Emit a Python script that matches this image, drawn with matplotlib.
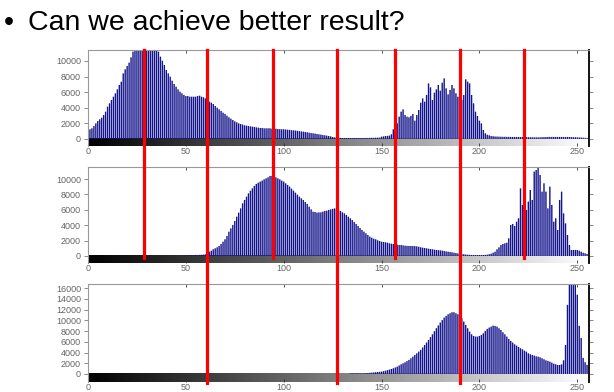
import matplotlib.pyplot as plt
import numpy as np
from matplotlib.lines import Line2D
from matplotlib.transforms import blended_transform_factory

# gray levels 0..255
levels = np.arange(256)

# original image histogram
hist_orig = [
    1070, 1240, 1370, 1660, 2000, 2300, 2520, 2730, 3070, 3500, 4140, 4570, 5000, 5420, 5850, 6360,
    6920, 7340, 8400, 8930, 9350, 9780, 10460, 11190, 11800, 12200, 12500, 12800, 12600, 12900, 12400, 12700,
    12300, 12000, 11800, 11500, 11190, 10550, 10030, 9480, 8840, 8410, 7990, 7470, 7050, 6700, 6360, 6060,
    5850, 5640, 5500, 5500, 5420, 5420, 5420, 5420, 5500, 5550, 5420, 5340, 5200, 5000, 4780, 4650,
    4480, 4230, 4010, 3800, 3590, 3370, 3200, 2990, 2780, 2600, 2430, 2260, 2130, 2000, 1920, 1840,
    1750, 1710, 1660, 1620, 1580, 1540, 1490, 1450, 1410, 1410, 1370, 1370, 1370, 1370, 1320, 1320,
    1320, 1280, 1260, 1250, 1240, 1220, 1190, 1160, 1130, 1110, 1080, 1040, 1000, 970, 940, 900,
    860, 800, 760, 730, 690, 640, 600, 560, 510, 470, 430, 380, 330, 250, 210, 180,
    150, 140, 130, 130, 130, 130, 130, 120, 130, 130, 130, 130, 130, 130, 140, 130,
    140, 150, 150, 160, 170, 170, 300, 330, 380, 400, 430, 600, 1240, 1370, 2000, 2860,
    3500, 3800, 3070, 2860, 2780, 2950, 3200, 2350, 3070, 3710, 4650, 5200, 4780, 5640, 7130, 6620,
    5000, 5930, 6360, 6920, 6190, 7210, 7770, 6490, 5720, 6280, 6920, 6490, 5850, 5420, 5850, 5000,
    5640, 7640, 7340, 7130, 5640, 4570, 3500, 2950, 2350, 2000, 1150, 730, 550, 470, 380, 350,
    320, 310, 300, 290, 280, 280, 270, 270, 260, 260, 260, 260, 260, 250, 250, 240,
    240, 230, 220, 220, 210, 210, 210, 220, 230, 240, 250, 260, 260, 260, 260, 260,
    260, 260, 260, 260, 250, 260, 250, 240, 230, 220, 210, 200, 190, 170, 150, 130,
]

# second histogram
hist_mid = [
    0, 0, 0, 0, 0, 0, 0, 0, 0, 0, 0, 0, 0, 0, 0, 0,
    0, 0, 0, 0, 0, 0, 0, 0, 0, 0, 0, 0, 0, 0, 0, 0,
    0, 0, 0, 0, 0, 0, 0, 0, 0, 0, 0, 0, 0, 0, 0, 0,
    0, 0, 110, 120, 110, 130, 120, 140, 130, 150, 160, 180, 220, 430, 560, 690,
    870, 1000, 1130, 1300, 1560, 1860, 2170, 2600, 3160, 3590, 4030, 4550, 5110, 5630, 6190, 6840,
    7280, 7710, 8140, 8490, 8790, 9100, 9360, 9530, 9660, 9790, 9960, 10090, 10220, 10400, 10400, 10310,
    10220, 10090, 9960, 9790, 9660, 9440, 9230, 9010, 8750, 8490, 8230, 7970, 7710, 7490, 7280, 7020,
    6760, 6410, 6060, 5760, 5720, 5630, 5670, 5670, 5760, 5850, 5890, 5980, 6060, 6120, 6190, 6060,
    5980, 5850, 5670, 5540, 5330, 5110, 4900, 4680, 4420, 4160, 3900, 3640, 3380, 3160, 2950, 2730,
    2510, 2380, 2250, 2170, 2040, 1950, 1860, 1820, 1780, 1730, 1650, 1600, 1560, 1520, 1470, 1430,
    1430, 1380, 1340, 1320, 1300, 1300, 1300, 1280, 1260, 1200, 1130, 1080, 1040, 1000, 950, 910,
    870, 820, 780, 760, 740, 700, 650, 600, 560, 520, 480, 430, 390, 340, 300, 260,
    220, 190, 170, 150, 130, 130, 130, 130, 130, 130, 130, 150, 170, 230, 300, 430,
    560, 870, 1130, 1430, 1560, 1650, 1730, 2300, 4030, 4160, 3900, 4460, 4900, 8790, 6630, 7280,
    5980, 7060, 8580, 7280, 10960, 11170, 11520, 10530, 8360, 9440, 8360, 6190, 9010, 6630, 4460, 4900,
    3380, 7280, 8360, 5540, 4240, 2730, 1430, 780, 780, 780, 780, 690, 560, 430, 350, 260,
]

# third histogram
hist_low = [0] * 128 + [
    0, 0, 0, 0, 0, 0, 100, 120, 110, 120, 130, 120, 120, 140, 150, 180,
    220, 250, 290, 330, 370, 400, 440, 530, 620, 710, 810, 930, 1060, 1210, 1370, 1590,
    1810, 2000, 2180, 2400, 2620, 2930, 3240, 3550, 3860, 4180, 4490, 4950, 5420, 5880, 6350, 6880,
    7410, 7980, 8540, 9060, 9590, 10060, 10530, 10840, 11150, 11340, 11530, 11530, 11340, 11150, 10900, 10400,
    9780, 9160, 8540, 7910, 7410, 7100, 6980, 6980, 7100, 7290, 7600, 8040, 8410, 8660, 8850, 9030,
    8970, 8850, 8540, 8220, 7790, 7410, 6980, 6540, 6170, 5860, 5540, 5300, 5050, 4800, 4610, 4360,
    4170, 3860, 3680, 3550, 3430, 3300, 3240, 3120, 2930, 2740, 2550, 2430, 2310, 2120, 1930, 1810,
    1680, 1680, 1810, 2550, 5420, 12900, 16900, 17500, 17000, 17000, 14800, 9000, 6700, 3000, 2200, 1700,
]

yticks_top = [0, 2000, 4000, 6000, 8000, 10000]
yticks_low = [0, 2000, 4000, 6000, 8000, 10000, 12000, 14000, 16000]
xticks = [0, 50, 100, 150, 200, 250]

# threshold lines drawn over the slide
thr_short = [28.5, 94.5, 157, 223]
thr_long = [61, 127, 190]

W, H = 614, 392
fig = plt.figure(figsize=(W / 100, H / 100), dpi=100)
plt.rcParams['font.family'] = ['Liberation Sans', 'DejaVu Sans']

fig.text(4 / W, 1 - 30 / H, "\u2022", fontsize=20.5, va='baseline', ha='left')
fig.text(28 / W, 1 - 30 / H, "Can we achieve better result?", fontsize=20.5,
         va='baseline', ha='left')


def draw_hist(rect, counts, ylo, yhi, yticks):
    ax = fig.add_axes(rect)
    bars = ax.bar(levels, counts, width=0.72, color='#14148c', linewidth=0, zorder=2)
    for b in bars:
        b.set_snap(False)
    # gray ramp under the axis
    ax.imshow(np.linspace(0, 1, 256)[None, :], cmap='gray', aspect='auto',
              extent=(0, 256, ylo, 0), zorder=1)
    ax.set_xlim(0, 256)
    ax.set_ylim(ylo, yhi)
    ax.set_yticks(yticks)
    ax.set_xticks(xticks)
    ax.tick_params(axis='y', direction='out', length=3, width=0.6, color='#777',
                   labelsize=6.5, labelcolor='#666', right=True, pad=2)
    ax.tick_params(axis='x', direction='in', length=2, width=0.6, color='#333',
                   labelsize=6.5, labelcolor='#666', top=True, pad=0.5)
    for s in ['top', 'left']:
        ax.spines[s].set_color('#999')
        ax.spines[s].set_linewidth(0.8)
    ax.spines['bottom'].set_visible(False)
    ax.spines['right'].set_color('#111')
    ax.spines['right'].set_linewidth(1.4)
    return ax


ax1 = draw_hist([88 / W, 1 - 146 / H, 501 / W, 96 / H], hist_orig, -900, 11400, yticks_top)
ax2 = draw_hist([88 / W, 1 - 263 / H, 501 / W, 96 / H], hist_mid, -910, 11560, yticks_top)
ax3 = draw_hist([88 / W, 1 - 382 / H, 501 / W, 98 / H], hist_low, -1500, 16800, yticks_low)

trans = blended_transform_factory(ax1.transData, fig.transFigure)
y_top = 1 - 50 / H
for t in thr_short:
    fig.add_artist(Line2D([t, t], [y_top, 1 - 258 / H], transform=trans,
                          color='#ff0000', lw=2.3, zorder=10))
for t in thr_long:
    fig.add_artist(Line2D([t, t], [y_top, 1 - 383 / H], transform=trans,
                          color='#ff0000', lw=2.3, zorder=10))

fig.savefig('out.png', dpi=100)
